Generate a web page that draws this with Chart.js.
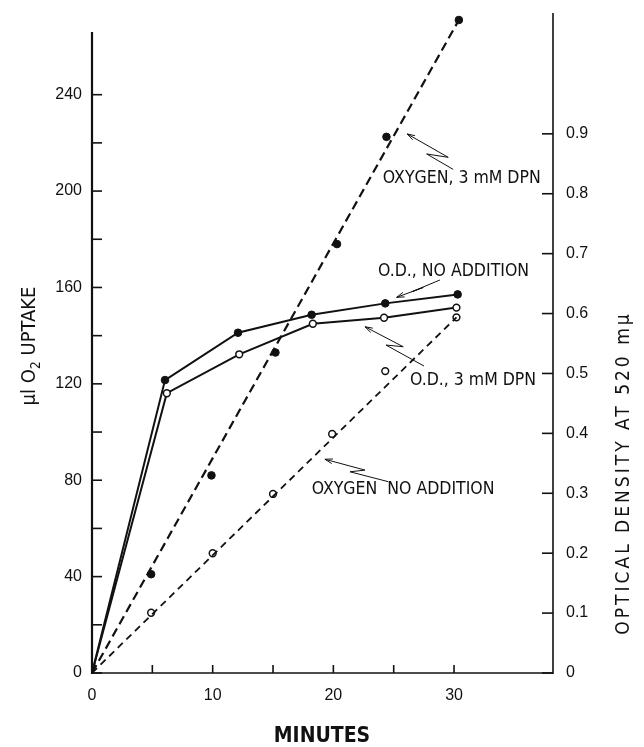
<!DOCTYPE html>
<html>
<head>
<meta charset="utf-8">
<script src="https://cdn.jsdelivr.net/npm/chart.js@4/dist/chart.umd.min.js"></script>
<style>
  html, body { margin: 0; padding: 0; background: #fff; }
</style>
</head>
<body>
<canvas id="chart" width="644" height="747"></canvas>
<script>
// O.D. at 520 mu (right axis)
const odNoAddMin = [0, 6.05, 12.1, 18.2, 24.3, 30.3];
const odNoAddVal = [0, 0.489, 0.568, 0.598, 0.617, 0.632];
const odDpnMin = [0, 6.2, 12.2, 18.3, 24.2, 30.2];
const odDpnVal = [0, 0.467, 0.532, 0.583, 0.593, 0.610];

// oxygen uptake, ul (left axis) - measured points and drawn straight lines
const oxyDpnMin = [4.9, 9.9, 15.2, 20.3, 24.4, 30.4];
const oxyDpnVal = [41, 82, 133, 178, 222.5, 271];
const oxyDpnLineMin = [0, 30.4];
const oxyDpnLineVal = [0, 271];
const oxyNoMin = [4.9, 10.0, 15.0, 19.9, 24.3, 30.2];
const oxyNoVal = [25, 49.7, 74.3, 99.2, 125.3, 147.6];
const oxyNoLineMin = [0, 30.2];
const oxyNoLineVal = [0, 147.6];

// axis ticks
const xTickVals = [0, 5, 10, 15, 20, 25, 30];
const xLabelVals = [0, 10, 20, 30];
const o2TickVals = [0, 20, 40, 60, 80, 100, 120, 140, 160, 180, 200, 220, 240];
const o2LabelVals = [0, 40, 80, 120, 160, 200, 240];
const odTickVals = [0, 0.1, 0.2, 0.3, 0.4, 0.5, 0.6, 0.7, 0.8, 0.9];

const pts = (xs, ys) => xs.map((x, i) => ({ x: x, y: ys[i] }));

const tickFont = { family: 'Liberation Sans, Arial, sans-serif', size: 16 };
const letterFont = '"DejaVu Sans Condensed", "Liberation Sans Narrow", sans-serif';

// text labels with their zig-zag arrows, placed in (minutes, ul O2) units
const notes = [
  { text: 'OXYGEN, 3 mM DPN', at: [24.1, 205.4],
    arrow: [[29.93, 209], [27.73, 215.4], [29.52, 214], [26.12, 223.7]] },
  { text: 'O.D., NO ADDITION', at: [23.7, 166.8],
    arrow: [[28.83, 163.1], [26.49, 158.2], [27.45, 160.0], [25.24, 155.9]] },
  { text: 'O.D., 3 mM DPN', at: [26.35, 121.6],
    arrow: [[27.51, 127.4], [24.36, 136.1], [25.79, 135.4], [22.62, 143.7]] },
  { text: 'OXYGEN  NO ADDITION', at: [18.2, 76.3],
    arrow: [[24.55, 79.4], [21.38, 83.5], [22.62, 84.2], [19.30, 88.7]] }
];

function fixTicks(vals) {
  return scale => { scale.ticks = vals.map(v => ({ value: v })); };
}

function fitWidth(w) {
  return s => {
    s.width = w;
    s.paddingTop = 0;
    s.paddingBottom = 0;
  };
}

const frame = {
  id: 'frame',
  afterDatasetsDraw(chart) {
    const c = chart.ctx, a = chart.chartArea;
    const x = chart.scales.x, yl = chart.scales.yO2, yr = chart.scales.yOD;
    c.save();
    c.strokeStyle = '#111';
    c.lineCap = 'butt';
    // axis lines
    c.lineWidth = 2.2;
    c.beginPath(); c.moveTo(a.left, a.bottom + 1); c.lineTo(a.left, yl.getPixelForValue(266)); c.stroke();
    c.lineWidth = 1.6;
    c.beginPath(); c.moveTo(a.left, a.bottom); c.lineTo(a.right, a.bottom); c.stroke();
    c.beginPath(); c.moveTo(a.right, a.bottom + 1); c.lineTo(a.right, a.top); c.stroke();
    // inward tick marks
    xTickVals.forEach(v => {
      const p = x.getPixelForValue(v);
      c.beginPath(); c.moveTo(p, a.bottom); c.lineTo(p, a.bottom - 8); c.stroke();
    });
    o2TickVals.forEach(v => {
      const p = yl.getPixelForValue(v);
      c.beginPath(); c.moveTo(a.left, p); c.lineTo(a.left + 10, p); c.stroke();
    });
    odTickVals.forEach(v => {
      const p = yr.getPixelForValue(v);
      c.beginPath(); c.moveTo(a.right, p); c.lineTo(a.right - 11, p); c.stroke();
    });

    // notes and arrows
    c.fillStyle = '#111';
    c.font = '17.5px ' + letterFont;
    c.textAlign = 'left';
    c.textBaseline = 'middle';
    notes.forEach(n => {
      c.fillText(n.text, x.getPixelForValue(n.at[0]), yl.getPixelForValue(n.at[1]));
      const p = n.arrow.map(q => [x.getPixelForValue(q[0]), yl.getPixelForValue(q[1])]);
      c.lineWidth = 1;
      c.beginPath();
      c.moveTo(p[0][0], p[0][1]);
      for (let i = 1; i < p.length; i++) c.lineTo(p[i][0], p[i][1]);
      c.stroke();
      const tip = p[p.length - 1], prev = p[p.length - 2];
      const ang = Math.atan2(tip[1] - prev[1], tip[0] - prev[0]);
      c.beginPath();
      c.moveTo(tip[0] - 8 * Math.cos(ang - 0.3), tip[1] - 8 * Math.sin(ang - 0.3));
      c.lineTo(tip[0], tip[1]);
      c.lineTo(tip[0] - 8 * Math.cos(ang + 0.3), tip[1] - 8 * Math.sin(ang + 0.3));
      c.stroke();
    });

    // axis titles
    c.textBaseline = 'middle';
    c.save();
    c.translate(30, 346);
    c.rotate(-Math.PI / 2);
    c.font = '20px ' + letterFont;
    const t1 = 'µl O', t2 = ' UPTAKE';
    const w1 = c.measureText(t1).width, w2 = c.measureText(t2).width;
    c.font = '14px ' + letterFont;
    const ws = c.measureText('2').width;
    const tot = w1 + ws + w2;
    c.textAlign = 'left';
    c.font = '20px ' + letterFont;
    c.fillText(t1, -tot / 2, 0);
    c.fillText(t2, -tot / 2 + w1 + ws, 0);
    c.font = '14px ' + letterFont;
    c.fillText('2', -tot / 2 + w1, 6);
    c.restore();

    c.save();
    c.translate(624, 473);
    c.rotate(-Math.PI / 2);
    c.textAlign = 'center';
    c.font = '19px ' + letterFont;
    c.letterSpacing = '3px';
    c.fillText('OPTICAL DENSITY AT 520 mµ', 0, 0);
    c.restore();

    c.textAlign = 'center';
    c.font = 'bold 21px "Liberation Sans Narrow", "DejaVu Sans Condensed", sans-serif';
    c.fillText('MINUTES', 322, 737);
    c.restore();
  }
};

new Chart(document.getElementById('chart'), {
  type: 'scatter',
  data: {
    datasets: [
      {
        label: 'O.D., no addition',
        data: pts(odNoAddMin, odNoAddVal),
        yAxisID: 'yOD',
        showLine: true,
        borderColor: '#111',
        borderWidth: 2,
        backgroundColor: '#111',
        pointBackgroundColor: '#111',
        pointBorderColor: '#111',
        pointRadius: ctx => ctx.dataIndex === 0 ? 0 : 3.8,
        pointBorderWidth: 1
      },
      {
        label: 'O.D., 3 mM DPN',
        data: pts(odDpnMin, odDpnVal),
        yAxisID: 'yOD',
        showLine: true,
        borderColor: '#111',
        borderWidth: 2,
        backgroundColor: '#fff',
        pointBackgroundColor: '#fff',
        pointBorderColor: '#111',
        pointRadius: ctx => ctx.dataIndex === 0 ? 0 : 3.4,
        pointBorderWidth: 1.5
      },
      {
        label: 'Oxygen, 3 mM DPN line',
        data: pts(oxyDpnLineMin, oxyDpnLineVal),
        yAxisID: 'yO2',
        showLine: true,
        borderColor: '#111',
        borderWidth: 2.2,
        borderDash: [9, 5],
        pointRadius: 0
      },
      {
        label: 'Oxygen, 3 mM DPN',
        data: pts(oxyDpnMin, oxyDpnVal),
        yAxisID: 'yO2',
        showLine: false,
        pointBackgroundColor: '#111',
        pointBorderColor: '#111',
        pointRadius: 3.8,
        pointBorderWidth: 1
      },
      {
        label: 'Oxygen, no addition line',
        data: pts(oxyNoLineMin, oxyNoLineVal),
        yAxisID: 'yO2',
        showLine: true,
        borderColor: '#111',
        borderWidth: 1.8,
        borderDash: [7, 5],
        pointRadius: 0
      },
      {
        label: 'Oxygen, no addition',
        data: pts(oxyNoMin, oxyNoVal),
        yAxisID: 'yO2',
        showLine: false,
        pointBackgroundColor: '#fff',
        pointBorderColor: '#111',
        pointRadius: 3.4,
        pointBorderWidth: 1.5
      }
    ]
  },
  options: {
    responsive: false,
    animation: false,
    devicePixelRatio: 1,
    layout: { padding: { top: 13, left: 0, right: 0, bottom: 0 } },
    plugins: { legend: { display: false }, tooltip: { enabled: false } },
    scales: {
      x: {
        type: 'linear',
        min: 0,
        max: 38.2,
        afterBuildTicks: fixTicks(xTickVals),
        afterFit: s => { s.height = 74; s.paddingLeft = 0; s.paddingRight = 0; },
        grid: { display: false, drawTicks: false },
        border: { display: false },
        ticks: {
          color: '#111',
          font: tickFont,
          padding: 13,
          maxRotation: 0,
          autoSkip: false,
          callback: v => xLabelVals.includes(v) ? String(v) : ''
        }
      },
      yO2: {
        type: 'linear',
        position: 'left',
        min: 0,
        max: 273.9,
        afterBuildTicks: fixTicks(o2TickVals),
        afterFit: fitWidth(92),
        grid: { display: false, drawTicks: false },
        border: { display: false },
        ticks: {
          color: '#111',
          font: tickFont,
          padding: 10,
          autoSkip: false,
          callback: v => o2LabelVals.includes(v) ? String(v) : ''
        }
      },
      yOD: {
        type: 'linear',
        position: 'right',
        min: 0,
        max: 1.1017,
        afterBuildTicks: fixTicks(odTickVals),
        afterFit: fitWidth(91),
        grid: { display: false, drawTicks: false },
        border: { display: false },
        ticks: {
          color: '#111',
          font: tickFont,
          padding: 13,
          autoSkip: false,
          callback: v => v === 0 ? '0' : v.toFixed(1)
        }
      }
    }
  },
  plugins: [frame]
});
</script>
</body>
</html>
